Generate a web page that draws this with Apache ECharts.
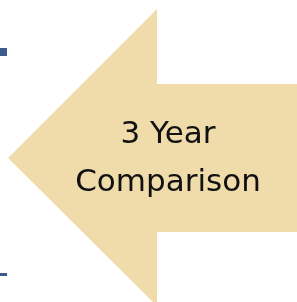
<!DOCTYPE html>
<html>
<head>
<meta charset="utf-8">
<script src="https://cdn.jsdelivr.net/npm/echarts@6/dist/echarts.min.js"></script>
<style>
  html, body { margin: 0; padding: 0; background: #fff; }
  #chart { width: 297px; height: 302px; }
</style>
</head>
<body>
<div id="chart"></div>
<script>
// arrow outline, in axis units (x right, y down)
const arrowX = [8, 157, 157, 297, 297, 157, 157]
const arrowY = [158, 9, 84, 84, 232, 232, 306]

// small axis stubs at the left edge: [x0, y0, x1, y1]
const stubs = [
  [0, 48, 7, 56],
  [0, 273, 7, 276],
]

const titleLines = ['3 Year', 'Comparison']
const titlePos = [168, 159]

const chart = echarts.init(document.getElementById('chart'))

chart.setOption({
  animation: false,
  grid: { left: 0, right: 0, top: 0, bottom: 0 },
  xAxis: { type: 'value', min: 0, max: 297, show: false },
  yAxis: { type: 'value', min: 0, max: 302, inverse: true, show: false },
  series: [
    {
      type: 'custom',
      clip: false,
      data: [0],
      renderItem: function (params, api) {
        const pts = arrowX.map((x, i) => api.coord([x, arrowY[i]]))
        const c = api.coord(titlePos)
        return {
          type: 'group',
          children: [
            {
              type: 'polygon',
              shape: { points: pts },
              style: { fill: '#F0DBAA' },
            },
            {
              type: 'text',
              x: c[0],
              y: c[1],
              style: {
                text: titleLines.join('\n'),
                fill: '#111',
                font: '31px "DejaVu Sans"',
                lineHeight: 48,
                align: 'center',
                verticalAlign: 'middle',
              },
            },
          ],
        }
      },
    },
    {
      type: 'custom',
      clip: false,
      data: stubs,
      renderItem: function (params, api) {
        const p0 = api.coord([api.value(0), api.value(1)])
        const p1 = api.coord([api.value(2), api.value(3)])
        return {
          type: 'rect',
          shape: { x: p0[0], y: p0[1], width: p1[0] - p0[0], height: p1[1] - p0[1] },
          style: { fill: '#3D5A8C' },
        }
      },
    },
  ],
})
</script>
</body>
</html>
